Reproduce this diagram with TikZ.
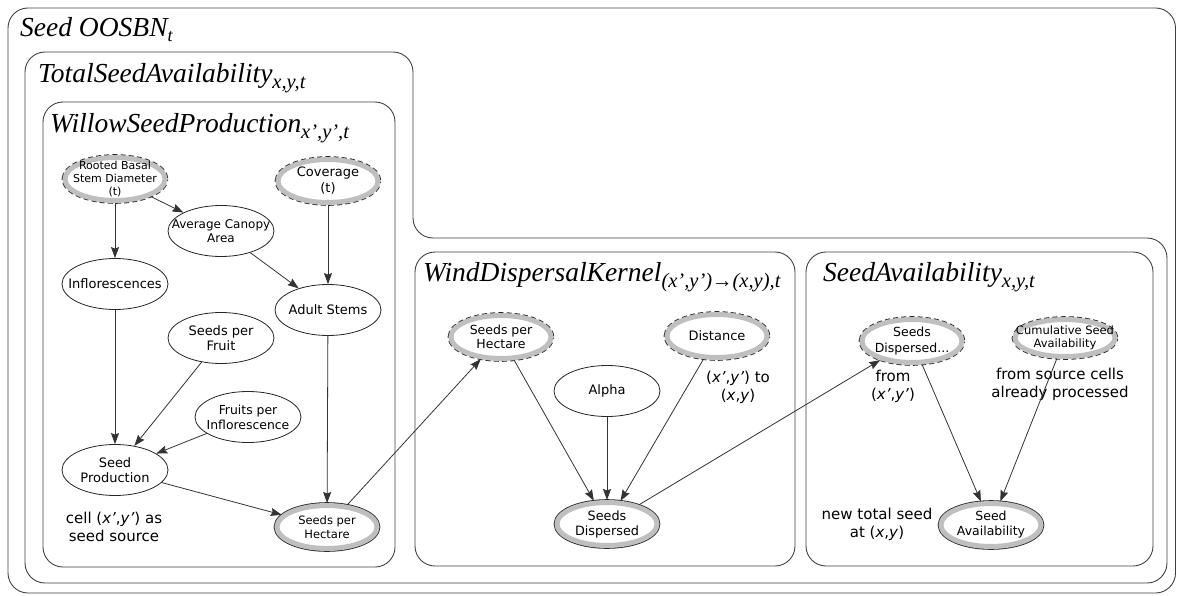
\documentclass[tikz,border=0pt]{standalone}
\usepackage{fontspec}
\setmainfont{Liberation Serif}
\setsansfont{DejaVu Sans}
\usetikzlibrary{shapes.geometric,arrows.meta}

\newcommand\lsub[1]{\raisebox{-6pt}{\fontsize{20.5}{20.5}\selectfont #1}}
\newcommand\fs[2]{\sffamily\fontsize{#1}{#2}\selectfont}

\tikzset{
  box/.style={draw=black!75, line width=0.9pt, rounded corners=20pt},
  ttl/.style={anchor=base west, inner sep=0pt, font=\fontsize{27.5}{28}\selectfont\itshape},
  var/.style={ellipse, draw=black!85, line width=0.8pt, minimum width=106pt, minimum height=51pt, inner sep=0pt},
  band/.style={ellipse, fill=white, draw=gray!50, line width=5pt, minimum width=100pt, minimum height=43pt, inner sep=0pt},
  ring/.style={band, preaction={draw=black!85, line width=6.6pt}},
  dring/.style={band, preaction={draw=black!85, line width=6.6pt, dash pattern=on 5pt off 3pt}},
  lbl/.style={align=center, inner sep=0pt, font=\fs{13}{15}},
  note/.style={align=center, inner sep=0pt, font=\fs{15}{18}},
  arr/.style={-{Stealth[length=11pt,width=8pt,inset=1.5pt]}, draw=black!80, line width=0.8pt}
}

\begin{document}
\begin{tikzpicture}[x=1pt, y=-1pt]
\useasboundingbox (0,0) rectangle (1177,596);

% plates
\draw[box] (8,8) rectangle (1175.5,593);
\draw[box] (25,52) -- (413,52) -- (413,238) -- (1167,238) -- (1167,583) -- (25,583) -- cycle;
\draw[box] (43,102) rectangle (395,567);
\draw[box] (415,252) rectangle (795,566);
\draw[box] (806,252) rectangle (1153,566);

\node[ttl] (oosbn) at (20,37) {Seed OOSBN\raisebox{-5pt}{\fontsize{18}{18}\selectfont t}};
\node[ttl] (tsa) at (38,83) {TotalSeedAvailability\lsub{x,y,t}};
\node[ttl] (wsp) at (50,133) {WillowSeedProduction\lsub{x',y',t}};
\node[ttl] (wdk) at (423,281) {WindDispersalKernel\lsub{(x',y')→(x,y),t}};
\node[ttl] (sa) at (823,281) {SeedAvailability\lsub{x,y,t}};

% willow seed production
\node[dring, label={[lbl, font=\fs{11}{13}]center:Rooted Basal\\Stem Diameter\\(t)}] (rbsd) at (115,179) {};
\node[dring, label={[lbl, font=\fs{13}{16}]center:Coverage\\(t)}] (cov) at (328,181) {};
\node[var, label={[lbl, font=\fs{12}{13.5}]center:Average Canopy\\Area}] (canopy) at (221,231) {};
\node[var, label={[lbl]center:Inflorescences}] (infl) at (115,284) {};
\node[var, label={[lbl]center:Adult Stems}] (adult) at (328,310) {};
\node[var, label={[lbl, font=\fs{13}{15.5}]center:Seeds per\\Fruit}] (spf) at (221,338) {};
\node[var, label={[lbl, font=\fs{12.4}{15}]center:Fruits per\\Inflorescence}] (fpi) at (248,417) {};
\node[var, label={[lbl, font=\fs{13}{14.5}]center:Seed\\Production}] (sprod) at (115,470) {};
\node[ring, label={[lbl, font=\fs{11.5}{14}]center:Seeds per\\Hectare}] (sph) at (327,527) {};
\node[note] (srcnote) at (114,527) {cell (\textit{x'},\textit{y'}) as\\seed source};

% wind dispersal kernel
\node[dring, label={[lbl, font=\fs{12.5}{14.5}]center:Seeds per\\Hectare}] (sph2) at (501,337) {};
\node[var, label={[lbl]center:Alpha}] (alpha) at (607,391) {};
\node[dring, label={[lbl]center:Distance}] (dist) at (717,336) {};
\node[ring, label={[lbl, font=\fs{12.8}{15}]center:Seeds\\Dispersed}] (sdisp) at (607,524) {};
\node[note] (distnote) at (738,387) {(\textit{x'},\textit{y'}) to\\(\textit{x},\textit{y})};

% seed availability
\node[dring, label={[lbl, font=\fs{12.5}{15.5}]center:Seeds\\Dispersed...}] (sdin) at (912,341) {};
\node[dring, minimum height=37pt, label={[lbl, font=\fs{11.5}{13.5}]center:Cumulative Seed\\Availability}] (cumul) at (1065,338) {};
\node[ring, label={[lbl, font=\fs{12.5}{15}]center:Seed\\Availability}] (savail) at (991,525) {};
\node[note] (fromnote) at (893,386) {from\\(\textit{x'},\textit{y'})};
\node[note] (procnote) at (1060,384) {from source cells\\already processed};
\node[note] (newnote) at (877,524) {new total seed\\at (\textit{x},\textit{y})};

\draw[arr] (rbsd) -- (infl);
\draw[arr] (rbsd) -- (canopy);
\draw[arr] (cov) -- (adult);
\draw[arr] (canopy) -- (adult);
\draw[arr] (infl) -- (sprod);
\draw[arr] (spf) -- (sprod);
\draw[arr] (fpi) -- (sprod);
\draw[arr] (sprod) -- (sph);
\draw[arr] (adult) -- (sph);
\draw[arr] (sph) -- (sph2);
\draw[arr] (sph2) -- (sdisp);
\draw[arr] (alpha) -- (sdisp);
\draw[arr] (dist) -- (sdisp);
\draw[arr] (sdisp) -- (sdin);
\draw[arr] (sdin) -- (savail);
\draw[arr] (cumul) -- (savail);
\end{tikzpicture}
\end{document}
